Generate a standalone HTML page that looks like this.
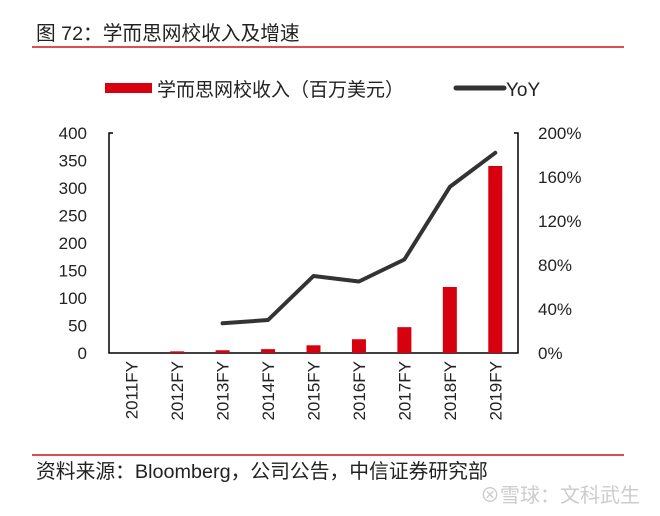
<!DOCTYPE html>
<html><head><meta charset="utf-8"><style>
body{margin:0;background:#fff;width:660px;height:511px;overflow:hidden;font-family:"Liberation Sans","Noto Sans CJK SC",sans-serif;}
</style></head><body>
<svg width="660" height="511" xmlns="http://www.w3.org/2000/svg" font-family="Liberation Sans, Noto Sans CJK SC, sans-serif">
<text x="36" y="40" font-size="19.7" fill="#222">图 72：学而思网校收入及增速</text>
<line x1="32" y1="47" x2="624" y2="47" stroke="#d0121b" stroke-width="1.5"/>
<g>
<rect x="105" y="83" width="47" height="10" fill="#d7000f"/>
<text x="157" y="96" font-size="19" fill="#222">学而思网校收入（百万美元）</text>
<line x1="456" y1="88" x2="504" y2="88" stroke="#333" stroke-width="5" stroke-linecap="round"/>
<text x="506" y="96" font-size="19" fill="#222">YoY</text>
</g>
<g id="axes"></g>
<g id="marks"></g>
<line x1="32" y1="455" x2="624" y2="455" stroke="#d0121b" stroke-width="1.5"/>
<text x="36" y="478" font-size="19.8" fill="#222">资料来源：Bloomberg，公司公告，中信证券研究部</text>
<text x="480" y="502" font-size="20" fill="#ccc">⊗雪球：文科武生</text>
</svg>
<script>
const categories=["2011FY","2012FY","2013FY","2014FY","2015FY","2016FY","2017FY","2018FY","2019FY"];
const revenue=[0,3,5,7,14,25,47,120,340];
const yoy=[null,null,27,30,70,65,85,151,182];
const leftTicks=[0,50,100,150,200,250,300,350,400];
const rightTicks=[0,40,80,120,160,200];
const NS="http://www.w3.org/2000/svg";
const X0=109,X1=518,Y0=353,Y1=133;
const step=(X1-X0)/categories.length;
const xc=i=>X0+step*(i+0.5);
const yL=v=>Y0-(v/400)*(Y0-Y1);
const yR=v=>Y0-(v/200)*(Y0-Y1);
function mk(tag,attrs,parent){const e=document.createElementNS(NS,tag);for(const k in attrs)e.setAttribute(k,attrs[k]);parent.appendChild(e);return e;}
const axes=document.getElementById('axes'),marks=document.getElementById('marks');
let a=mk('path',{d:`M${X0+4} ${Y1}H${X0}V${Y0}H${X1}V${Y1}H${X1-4}`,fill:'none',stroke:'#000','stroke-width':1.5},axes);


leftTicks.forEach(v=>{const t=mk('text',{x:X0-22,y:yL(v)+6,'font-size':17,'text-anchor':'end',fill:'#222'},axes);t.textContent=v;

});
rightTicks.forEach(v=>{const t=mk('text',{x:X1+20,y:yR(v)+6,'font-size':17,fill:'#222'},axes);t.textContent=v+'%';

});
categories.forEach((c,i)=>{const x=xc(i)+6;const t=mk('text',{x:x,y:Y0+8,'font-size':17,'text-anchor':'end',fill:'#222',transform:`rotate(-90 ${x} ${Y0+8})`},axes);t.textContent=c;

});
revenue.forEach((v,i)=>{const r=mk('rect',{x:xc(i)-7,y:yL(v),width:14,height:Y0-yL(v),fill:'#d7000f'},marks);

});
const pts=yoy.map((v,i)=>v==null?null:`${xc(i)},${yR(v)}`).filter(p=>p);
const l=mk('polyline',{points:pts.join(' '),fill:'none',stroke:'#333','stroke-width':4,'stroke-linejoin':'round','stroke-linecap':'round'},marks);


</script>
</body></html>
